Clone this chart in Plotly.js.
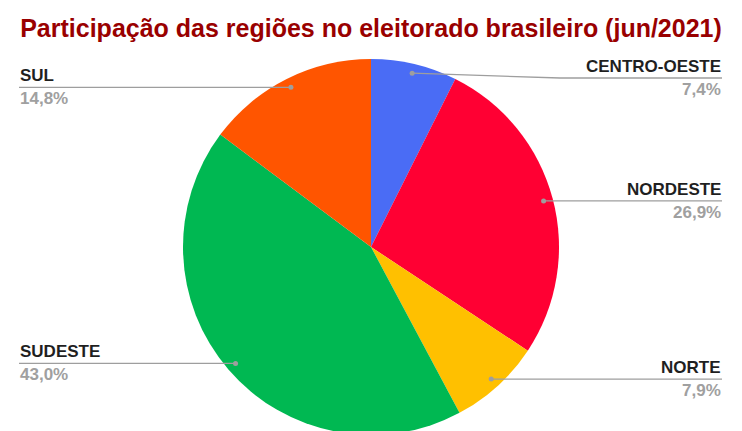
<!DOCTYPE html>
<html><head><meta charset="utf-8">
<script src="https://cdn.plot.ly/plotly-3.0.1.min.js"></script>
<style>html,body{margin:0;padding:0;overflow:hidden;background:#fff}#chart{width:742px;height:441px}</style>
</head><body><div id="chart"></div>
<script>
// ---- data ----
const titleText = 'Participação das regiões no eleitorado brasileiro (jun/2021)';
const categories = ['CENTRO-OESTE', 'NORDESTE', 'NORTE', 'SUDESTE', 'SUL'];
const shares = [7.4, 26.9, 7.9, 43.0, 14.8];

// ---- style ----
const sliceColors = ['#4a6cf5', '#ff0033', '#ffc000', '#00b852', '#ff5500'];
const W = 742, H = 441;
const CX = 371, CY = 247, R = 188;       // pie geometry in px
const LEFT_X = 19, RIGHT_X = 722, MIN_LABEL_Y = 78, ELBOW_X = 560;
const labelFont = '"Liberation Sans", Arial, sans-serif';

const px = x => x / W, py = y => 1 - y / H;

const total = shares.reduce((a, b) => a + b, 0);
const annotations = [], shapes = [];
let cum = 0;
shares.forEach((v, i) => {
  const mid = (cum + v / 2) / total * 2 * Math.PI; cum += v;
  const dx = Math.sin(mid) * R * 0.95, dy = -Math.cos(mid) * R * 0.95;
  const dotX = CX + dx, dotY = CY + dy;
  const left = dx < 0;
  const ly = Math.max(dotY, MIN_LABEL_Y);
  const endX = left ? LEFT_X : RIGHT_X;
  let path = `M ${px(dotX)} ${py(dotY)}`;
  if (Math.abs(ly - dotY) > 0.5) path += ` L ${px(left ? W - ELBOW_X : ELBOW_X)} ${py(ly)}`;
  path += ` L ${px(endX)} ${py(ly)}`;
  shapes.push({type: 'path', xref: 'paper', yref: 'paper', path, line: {color: '#9e9e9e', width: 1.3}});
  const dr = 2.5;
  shapes.push({type: 'circle', xref: 'paper', yref: 'paper', x0: px(dotX - dr), x1: px(dotX + dr), y0: py(dotY + dr), y1: py(dotY - dr), fillcolor: '#9e9e9e', line: {width: 0}});
  annotations.push({xref: 'paper', yref: 'paper', x: px(endX), y: py(ly - 1), xanchor: left ? 'left' : 'right', yanchor: 'bottom', showarrow: false, text: '<b>' + categories[i] + '</b>', font: {family: labelFont, size: 17, color: '#1f1f1f'}, borderpad: 0});
  annotations.push({xref: 'paper', yref: 'paper', x: px(endX), y: py(ly + 1), xanchor: left ? 'left' : 'right', yanchor: 'top', showarrow: false, text: '<b>' + v.toFixed(1).replace('.', ',') + '%</b>', font: {family: labelFont, size: 17, color: '#a0a0a0'}, borderpad: 0});
});

const trace = {
  type: 'pie', labels: categories, values: shares, sort: false, direction: 'clockwise', rotation: 0,
  marker: {colors: sliceColors, line: {color: '#ffffff', width: 0}},
  textinfo: 'none', hoverinfo: 'none', showlegend: false,
  domain: {x: [px(CX - R), px(CX + R)], y: [py(CY + R), py(CY - R)]}
};

const layout = {
  width: W, height: H, margin: {l: 0, r: 0, t: 0, b: 0},
  paper_bgcolor: '#ffffff', showlegend: false,
  title: {text: '<b>' + titleText + '</b>', x: 0.5, xanchor: 'center', y: py(28), yanchor: 'middle', yref: 'container',
          font: {family: '"Liberation Sans Narrow", "Arial Narrow", sans-serif', size: 25, color: '#990000'}},
  annotations, shapes
};
Plotly.newPlot('chart', [trace], layout, {displayModeBar: false, staticPlot: true});
</script></body></html>
